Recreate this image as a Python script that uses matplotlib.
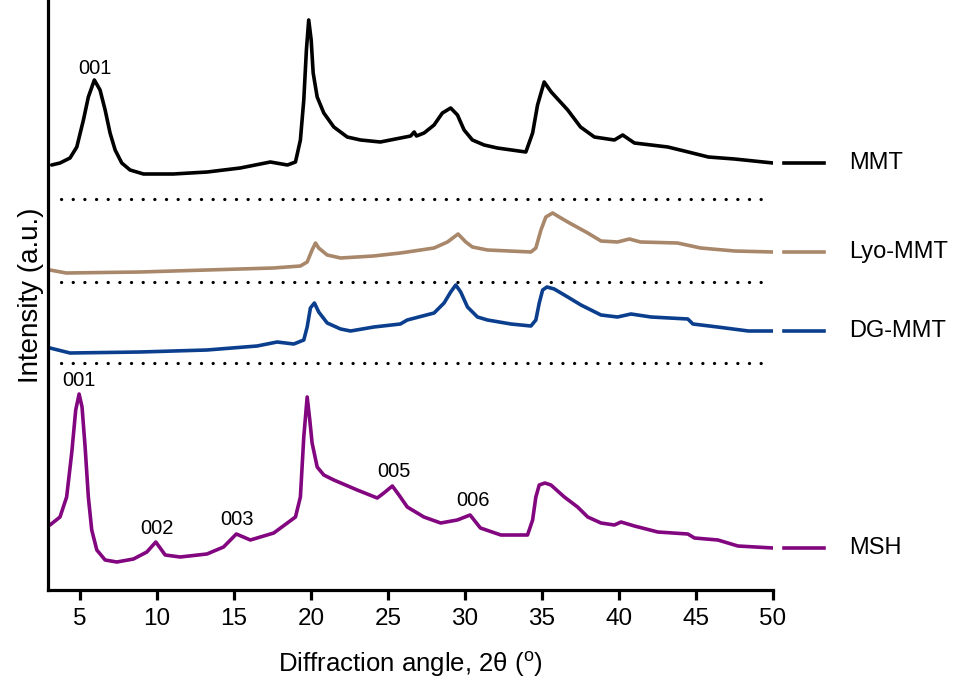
import matplotlib
matplotlib.use("Agg")
import matplotlib.pyplot as plt

plt.rcParams['font.family'] = ['Liberation Sans', 'DejaVu Sans']
plt.rcParams['mathtext.fontset'] = 'custom'
plt.rcParams['mathtext.rm'] = 'Liberation Sans'

# ---------------- data (2theta in degrees, intensity in arbitrary offset units) ----------------
mmt_x = [3.16, 3.70, 4.35, 4.79, 5.22, 5.54, 5.93, 6.30, 6.63, 6.95, 7.28, 7.71, 8.25, 9.12, 11.05,
         13.26, 15.4, 17.36, 18.47, 18.99, 19.31, 19.53, 19.70, 19.85, 20.01, 20.14, 20.40, 20.83,
         21.48, 22.35, 23.22, 24.5, 26.47, 26.7, 26.85, 27.34, 27.99, 28.53, 29.07, 29.51, 29.94,
         30.48, 31.24, 32.1, 33.95, 34.39, 34.71, 35.14, 35.6, 36.67, 37.5, 38.4, 39.7, 40.24,
         41.0, 43.17, 44.5, 45.8, 47.5, 50.0]
mmt_y = [425, 427, 432, 443, 470, 493, 510, 500, 480, 457, 440, 427, 420, 416, 416,
         418, 422, 428, 425, 428, 450, 490, 540, 570, 550, 517, 493, 477,
         463, 453, 450, 448, 454, 458, 454, 457, 465, 477, 482, 475, 460,
         450, 445, 442, 438, 457, 485, 508, 498, 480, 463, 453, 450, 455,
         447, 443, 438, 433, 431, 427]

lyo_x = [3.05, 4.1, 8.9, 13.24, 17.56, 19.31, 19.75, 20.07, 20.29, 20.50, 21.05, 21.92, 24.06,
         25.8, 26.25, 27.99, 28.86, 29.55, 30.05, 30.48, 31.46, 34.28, 34.6, 34.93, 35.25, 35.69,
         36.12, 36.67, 37.97, 38.83, 39.9, 40.67, 41.4, 43.8, 45.3, 47.5, 50.0]
lyo_y = [320, 317, 318, 320, 322, 324, 328, 340, 347, 342, 335, 332, 334,
         337, 338, 342, 348, 356, 348, 343, 340, 338, 342, 360, 373, 377,
         373, 368, 357, 349, 348, 351, 348, 347, 342, 339, 338]

dg_x = [3.05, 4.35, 8.9, 13.24, 16.5, 17.8, 18.88, 19.53, 19.75, 19.96, 20.22, 20.50, 21.05, 21.92,
        22.57, 24.08, 25.8, 26.25, 27.99, 28.64, 29.07, 29.4, 29.72, 30.16, 30.81, 31.46, 32.98,
        34.28, 34.6, 34.82, 35.04, 35.32, 35.79, 36.67, 37.53, 38.83, 39.9, 40.78, 42.08, 44.47,
        44.8, 46.4, 48.4, 50.0]
dg_y = [242, 237, 238, 240, 244, 248, 246, 250, 263, 282, 287, 278, 267, 261,
        259, 263, 266, 270, 277, 287, 298, 305, 298, 283, 273, 270, 266,
        264, 270, 287, 300, 303, 301, 293, 285, 275, 273, 276, 273, 271,
        266, 263, 259, 259]

msh_x = [3.05, 3.70, 4.13, 4.46, 4.72, 4.94, 5.13, 5.33, 5.54, 5.76, 6.09, 6.63, 7.39, 8.47, 9.34,
         9.92, 10.53, 11.5, 13.24, 14.32, 15.15, 16.06, 17.58, 18.99, 19.31, 19.53, 19.75, 19.92,
         20.07, 20.40, 20.83, 21.48, 23.0, 24.3, 24.73, 25.28, 25.71, 26.25, 27.33, 28.42, 29.5,
         30.33, 31.0, 32.33, 34.06, 34.39, 34.6, 34.82, 35.19, 35.58, 36.45, 37.31, 37.97, 38.83,
         39.7, 40.13, 41.0, 42.52, 44.47, 44.9, 46.42, 47.72, 50.0]
msh_y = [65, 73, 93, 137, 180, 196, 183, 143, 93, 60, 40, 30, 28, 31, 38,
         48, 35, 33, 36, 43, 56, 50, 57, 73, 93, 153, 193, 170,
         147, 123, 115, 110, 100, 92, 97, 104, 95, 83, 73, 67, 70,
         75, 62, 55, 55, 70, 93, 105, 107, 105, 93, 83, 73, 67,
         65, 68, 64, 58, 56, 52, 50, 44, 42]

series_names = ["MMT", "Lyo-MMT", "DG-MMT", "MSH"]
series_x = [mmt_x, lyo_x, dg_x, msh_x]
series_y = [mmt_y, lyo_y, dg_y, msh_y]
series_colors = ["#000000", "#A8876A", "#0B3F8E", "#82067F"]

separator_levels = [390.7, 308.3, 226.7]

peak_labels = ["001", "001", "002", "003", "005", "006"]
peak_label_x = [6.0, 4.95, 10.0, 15.2, 25.4, 30.5]
peak_label_y = [512, 200, 52, 61, 109, 80]

x_ticks = [5, 10, 15, 20, 25, 30, 35, 40, 45, 50]

# ---------------- figure ----------------
fig = plt.figure(figsize=(9.57, 6.86), dpi=100)
ax = fig.add_axes([48 / 957, 96 / 686, 725 / 957, 590 / 686])

for xs, ys, c in zip(series_x, series_y, series_colors):
    ax.plot(xs, ys, color=c, lw=2.6, solid_joinstyle='round', solid_capstyle='round')

for lev in separator_levels:
    ax.plot([3.74, 49.6], [lev, lev], color='black', lw=2.3,
            linestyle=(0, (0.05, 3.6)), dash_capstyle='round')

for name, ys, c in zip(series_names, series_y, series_colors):
    yend = ys[-1]
    ax.plot([50.74, 53.34], [yend, yend], color=c, lw=2.6, clip_on=False)
    ax.text(54.95, yend, name, fontsize=17, va='center', ha='left', clip_on=False)

for t, px, py in zip(peak_labels, peak_label_x, peak_label_y):
    ax.text(px, py, t, fontsize=14.5, ha='center', va='bottom')

ax.set_xlim(2.92, 50)
ax.set_ylim(0, 590)
ax.set_xticks(x_ticks)
ax.set_xticklabels([str(t) for t in x_ticks])
ax.set_yticks([])
for s in ['top', 'right']:
    ax.spines[s].set_visible(False)
for s in ['left', 'bottom']:
    ax.spines[s].set_linewidth(2.3)
ax.tick_params(axis='x', length=7, width=2.3, labelsize=17.5, pad=6)
ax.set_xlabel("Diffraction angle, 2\u03b8 ($^{\\rm o}$)", fontsize=18.5, labelpad=14)
ax.set_ylabel("Intensity (a.u.)", fontsize=20, labelpad=3)

fig.savefig("out.png", dpi=100)
